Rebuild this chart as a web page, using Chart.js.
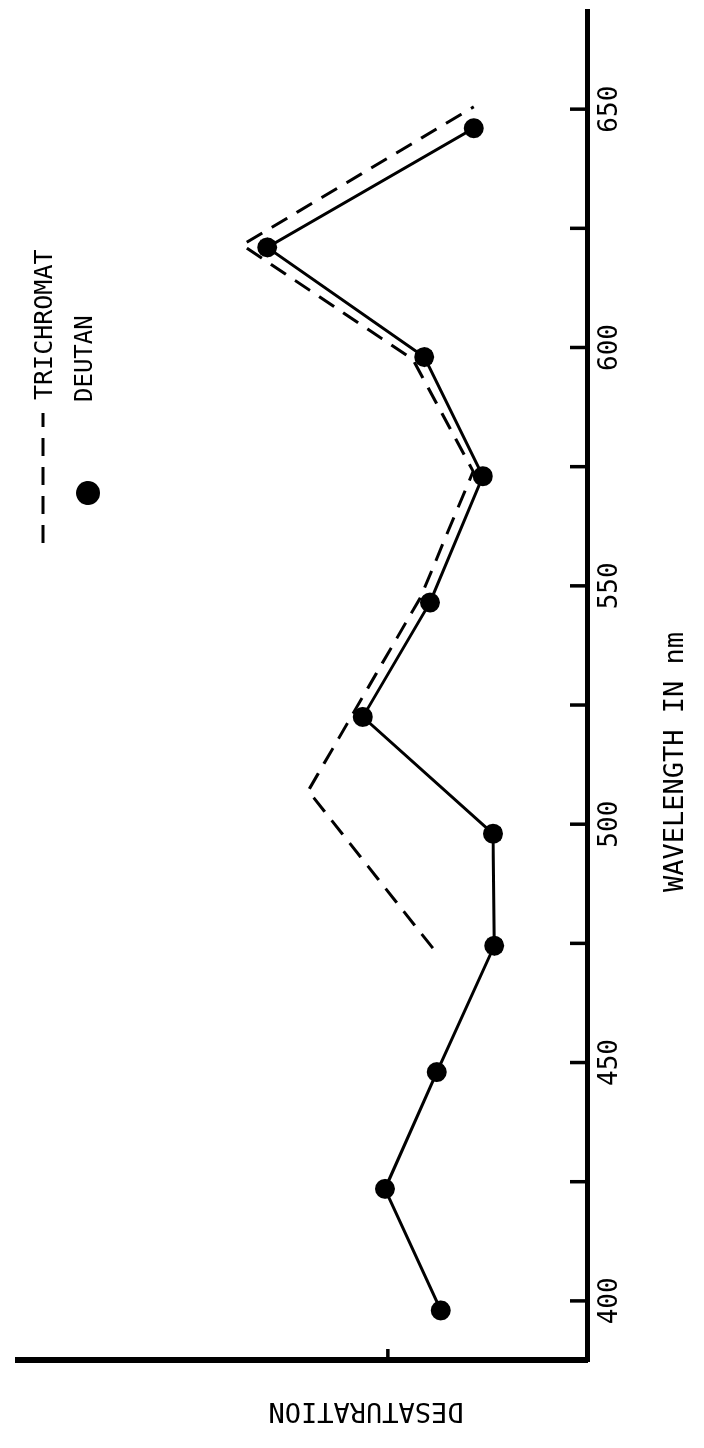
<!DOCTYPE html>
<html>
<head>
<meta charset="utf-8">
<script src="https://cdn.jsdelivr.net/npm/chart.js@4"></script>
<style>
  html, body { margin: 0; padding: 0; background: #fff; }
  #wrap { position: relative; width: 704px; height: 1448px; overflow: hidden; background: #fff; }
  /* the figure is drawn landscape and turned a quarter left, like the scanned page */
  #chart { position: absolute; left: -372px; top: 372px; transform: rotate(-90deg); }
</style>
</head>
<body>
<div id="wrap">
  <canvas id="chart" width="1448" height="704"></canvas>
</div>
<script>
const wavelengthTicks = [400, 425, 450, 475, 500, 525, 550, 575, 600, 625, 650];
const tickLabels = ["400", "450", "500", "550", "600", "650"];
const desatTicks = [3.5];

const deutanWavelength = [398, 423.5, 448, 474.5, 498, 522.5, 546.5, 573, 598, 621, 646];
const deutanDesat = [2.57, 3.55, 2.64, 1.63, 1.65, 3.94, 2.76, 1.83, 2.86, 5.62, 1.99];

const trichromatWavelength = [474, 507, 547.5, 574, 597.5, 621.5, 650.5];
const trichromatDesat = [2.71, 4.9, 2.93, 2.0, 3.06, 6.06, 1.99];

const FONT = "'DejaVu Sans Mono', monospace";

const toPoints = (xs, ys) => xs.map((x, i) => ({x: x, y: ys[i]}));

const innerTicks = {
  id: "innerTicks",
  afterDraw(chart) {
    const {ctx, chartArea, scales} = chart;
    ctx.save();
    ctx.strokeStyle = "#000";
    ctx.lineWidth = 3.5;
    scales.x.ticks.forEach((t) => {
      const px = scales.x.getPixelForValue(t.value);
      ctx.beginPath();
      ctx.moveTo(px, chartArea.bottom);
      ctx.lineTo(px, chartArea.bottom - 17);
      ctx.stroke();
    });
    desatTicks.forEach((v) => {
      const py = scales.y.getPixelForValue(v);
      ctx.beginPath();
      ctx.moveTo(chartArea.left, py);
      ctx.lineTo(chartArea.left + 11, py);
      ctx.stroke();
    });
    ctx.restore();
  },
};

const labels = {
  id: "labels",
  afterDraw(chart) {
    const {ctx} = chart;
    const tri = chart.data.datasets[0];
    const deu = chart.data.datasets[1];
    ctx.save();
    ctx.fillStyle = "#000";
    ctx.textBaseline = "middle";

    // axis titles
    ctx.font = "27px " + FONT;
    ctx.textAlign = "center";
    ctx.fillText("WAVELENGTH IN nm", 686, 676);
    ctx.save();
    ctx.translate(38, 366);
    ctx.rotate(-Math.PI / 2);
    ctx.fillText("DESATURATION", 0, 0);
    ctx.restore();

    // legend
    ctx.strokeStyle = tri.borderColor;
    ctx.lineWidth = tri.borderWidth;
    ctx.setLineDash(tri.borderDash);
    ctx.beginPath();
    ctx.moveTo(905, 43);
    ctx.lineTo(1035, 43);
    ctx.stroke();
    ctx.setLineDash([]);
    ctx.beginPath();
    ctx.arc(955, 88, deu.pointRadius + 2, 0, Math.PI * 2);
    ctx.fillStyle = deu.pointBackgroundColor;
    ctx.fill();

    ctx.fillStyle = "#000";
    ctx.font = "25px " + FONT;
    ctx.textAlign = "left";
    ctx.fillText(tri.label, 1048, 45);
    ctx.font = "24px " + FONT;
    ctx.fillText(deu.label, 1046, 86);
    ctx.restore();
  },
};

new Chart(document.getElementById("chart"), {
  type: "line",
  data: {
    datasets: [
      {
        label: "TRICHROMAT",
        data: toPoints(trichromatWavelength, trichromatDesat),
        borderColor: "#000",
        borderWidth: 3,
        borderDash: [18, 11],
        pointRadius: 0,
        tension: 0,
      },
      {
        label: "DEUTAN",
        data: toPoints(deutanWavelength, deutanDesat),
        borderColor: "#000",
        borderWidth: 3,
        pointRadius: 10,
        pointBackgroundColor: "#000",
        pointBorderWidth: 0,
        tension: 0,
      },
    ],
  },
  options: {
    responsive: false,
    animation: false,
    devicePixelRatio: 1,
    layout: {padding: {top: 18, right: 10, left: 0, bottom: 0}},
    plugins: {legend: {display: false}, tooltip: {enabled: false}},
    scales: {
      x: {
        type: "linear",
        min: 387.6,
        max: 670.8,
        afterBuildTicks: (axis) => {
          axis.ticks = wavelengthTicks.map((v) => ({value: v}));
        },
        afterFit: (axis) => {
          axis.height = 117;
        },
        grid: {display: false, drawTicks: false},
        border: {display: true, color: "#000", width: 5},
        ticks: {
          color: "#000",
          font: {family: FONT, size: 26},
          padding: 8,
          maxRotation: 0,
          autoSkip: false,
          callback: (v) => (tickLabels.includes(String(v)) ? String(v) : ""),
        },
      },
      y: {
        min: 0,
        max: 10,
        afterFit: (axis) => {
          axis.width = 88;
        },
        grid: {display: false, drawTicks: false},
        border: {display: true, color: "#000", width: 6},
        ticks: {display: false},
      },
    },
  },
  plugins: [innerTicks, labels],
});
</script>
</body>
</html>
